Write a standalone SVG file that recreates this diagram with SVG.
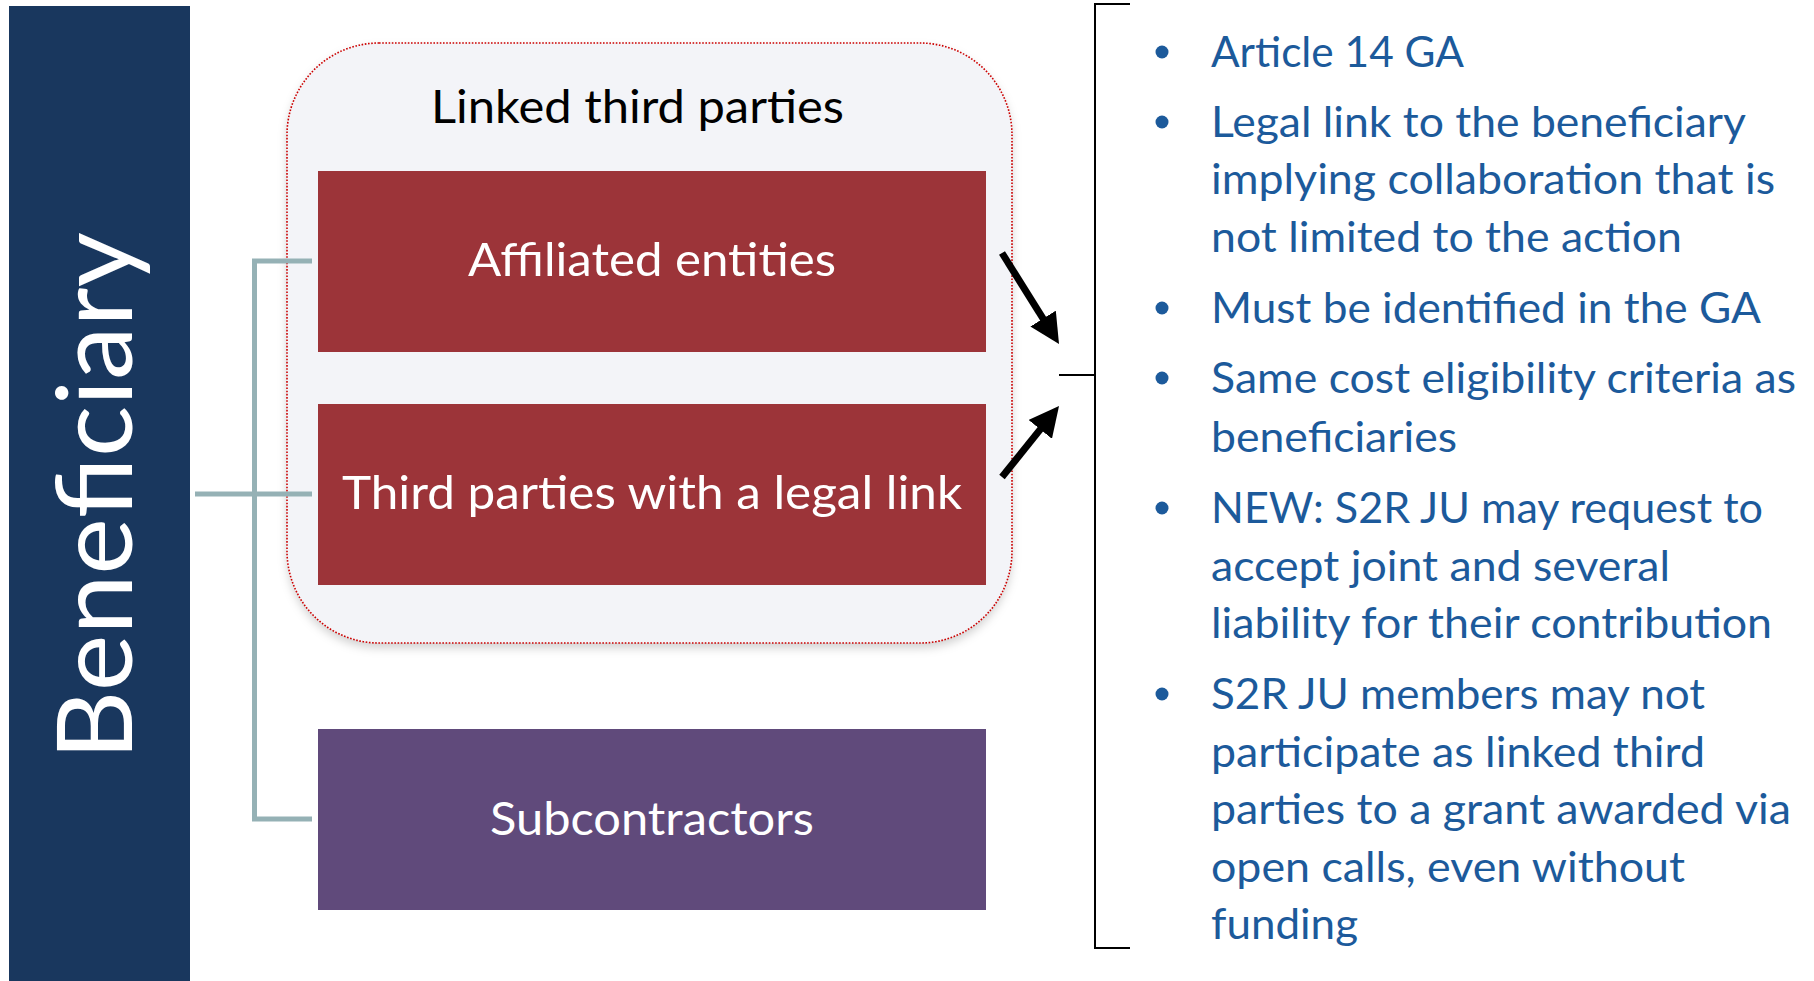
<svg xmlns="http://www.w3.org/2000/svg" width="1814" height="981" viewBox="0 0 1814 981">
<style>
.box-text{font-family:Lato,"Open Sans","Liberation Sans",sans-serif;fill:#ffffff;font-size:47px;text-anchor:middle}
.info{font-family:Lato,"Open Sans","Liberation Sans",sans-serif;fill:#1C5A9B;font-size:42px}
.bullet{fill:#1C5A9B}
.conn{fill:none;stroke:#95B1B5;stroke-width:5}
.bracket{fill:none;stroke:#000000;stroke-width:2}
.arrow{stroke:#000000;stroke-width:7;fill:none}
</style>
<defs>
<filter id="shadow" x="-10%" y="-10%" width="120%" height="125%">
<feDropShadow dx="0" dy="5" stdDeviation="5" flood-color="#000000" flood-opacity="0.18"/>
</filter>
<marker id="head" markerUnits="userSpaceOnUse" markerWidth="30" markerHeight="30" refX="10" refY="15" orient="auto">
<path d="M0,0 L30,15 L0,30 z" fill="#000000"/>
</marker>
</defs>
<rect width="1814" height="981" fill="#ffffff"/>

<g id="beneficiary">
<rect x="9" y="6" width="181" height="975" fill="#19375E"/>
<text transform="translate(132,760) rotate(-90)" font-family="Lato,'Open Sans','Liberation Sans',sans-serif" font-size="104" fill="#ffffff" textLength="528" lengthAdjust="spacingAndGlyphs">Beneficiary</text>
</g>

<g id="linked-third-parties">
<rect x="287" y="43" width="725" height="600" rx="92" ry="92" fill="#F3F4F8" filter="url(#shadow)"/>
<rect x="287" y="43" width="725" height="600" rx="92" ry="92" fill="none" stroke="#CC0000" stroke-width="1.6" stroke-dasharray="1.6 1.6"/>
<text x="637.5" y="123" font-family="Lato,'Open Sans','Liberation Sans',sans-serif" font-size="46" fill="#000000" text-anchor="middle" textLength="413" lengthAdjust="spacingAndGlyphs">Linked third parties</text>
</g>

<g id="affiliated-entities">
<rect x="318" y="171" width="668" height="181" fill="#9C3439"/>
<text class="box-text" x="652" y="276" textLength="368" lengthAdjust="spacingAndGlyphs">Affiliated entities</text>
</g>

<g id="third-parties-legal-link">
<rect x="318" y="404" width="668" height="181" fill="#9C3439"/>
<text class="box-text" x="652" y="509" textLength="620" lengthAdjust="spacingAndGlyphs">Third parties with a legal link</text>
</g>

<g id="subcontractors">
<rect x="318" y="729" width="668" height="181" fill="#604A7B"/>
<text class="box-text" x="652" y="835" textLength="324" lengthAdjust="spacingAndGlyphs">Subcontractors</text>
</g>

<g id="info-list">
<circle class="bullet" cx="1162" cy="52" r="6.5"/>
<text class="info" x="1211" y="67" textLength="253" lengthAdjust="spacingAndGlyphs">Article 14 GA</text>
<circle class="bullet" cx="1162" cy="122" r="6.5"/>
<text class="info" x="1211" y="137" textLength="535" lengthAdjust="spacingAndGlyphs">Legal link to the beneficiary</text>
<text class="info" x="1211" y="194" textLength="564" lengthAdjust="spacingAndGlyphs">implying collaboration that is</text>
<text class="info" x="1211" y="252" textLength="471" lengthAdjust="spacingAndGlyphs">not limited to the action</text>
<circle class="bullet" cx="1162" cy="308" r="6.5"/>
<text class="info" x="1211" y="323" textLength="550" lengthAdjust="spacingAndGlyphs">Must be identified in the GA</text>
<circle class="bullet" cx="1162" cy="378" r="6.5"/>
<text class="info" x="1211" y="393" textLength="585" lengthAdjust="spacingAndGlyphs">Same cost eligibility criteria as</text>
<text class="info" x="1211" y="452" textLength="246" lengthAdjust="spacingAndGlyphs">beneficiaries</text>
<circle class="bullet" cx="1162" cy="508" r="6.5"/>
<text class="info" x="1211" y="523" textLength="552" lengthAdjust="spacingAndGlyphs">NEW: S2R JU may request to</text>
<text class="info" x="1211" y="581" textLength="459" lengthAdjust="spacingAndGlyphs">accept joint and several</text>
<text class="info" x="1211" y="638" textLength="561" lengthAdjust="spacingAndGlyphs">liability for their contribution</text>
<circle class="bullet" cx="1162" cy="694" r="6.5"/>
<text class="info" x="1211" y="709" textLength="494" lengthAdjust="spacingAndGlyphs">S2R JU members may not</text>
<text class="info" x="1211" y="767" textLength="494" lengthAdjust="spacingAndGlyphs">participate as linked third</text>
<text class="info" x="1211" y="824" textLength="580" lengthAdjust="spacingAndGlyphs">parties to a grant awarded via</text>
<text class="info" x="1211" y="882" textLength="474" lengthAdjust="spacingAndGlyphs">open calls, even without</text>
<text class="info" x="1211" y="939" textLength="147" lengthAdjust="spacingAndGlyphs">funding</text>
</g>

<g id="connectors">
<path class="conn" d="M195,494 H312"/>
<path class="conn" d="M312,261 H254.5 V819 H312"/>
<line class="arrow" x1="1002" y1="253" x2="1048.4" y2="327.1" marker-end="url(#head)"/>
<line class="arrow" x1="1002" y1="477" x2="1046.5" y2="421.6" marker-end="url(#head)"/>
<path class="bracket" d="M1130,4 H1095 V948 H1130"/>
<path class="bracket" d="M1059,375 H1095"/>
</g>
</svg>
